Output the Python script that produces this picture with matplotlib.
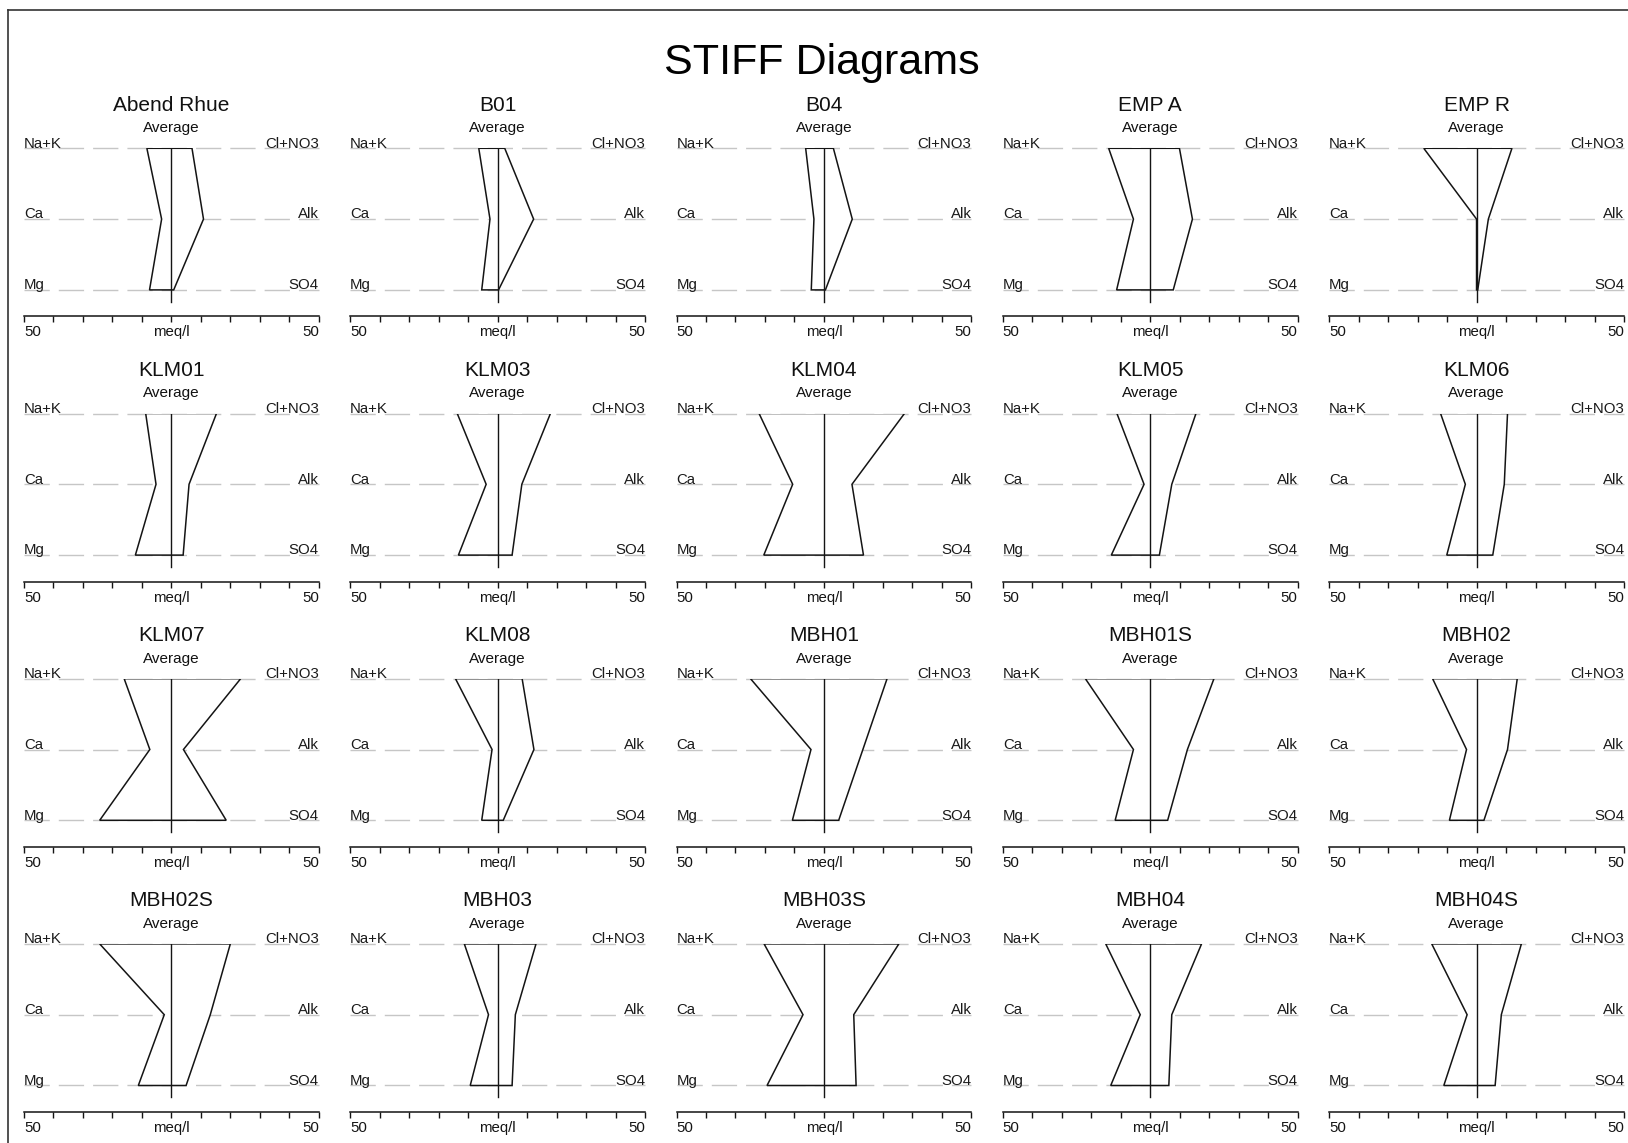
import matplotlib
matplotlib.use('Agg')
import matplotlib.pyplot as plt
from matplotlib import rcParams
from matplotlib.lines import Line2D

rcParams['font.family'] = ['Liberation Sans', 'DejaVu Sans']
rcParams['lines.scale_dashes'] = False

sites = ['Abend Rhue', 'B01', 'B04', 'EMP A', 'EMP R',
         'KLM01', 'KLM03', 'KLM04', 'KLM05', 'KLM06',
         'KLM07', 'KLM08', 'MBH01', 'MBH01S', 'MBH02',
         'MBH02S', 'MBH03', 'MBH03S', 'MBH04', 'MBH04S']

# average cations, meq/l
na_k = [8.3, 6.4, 6.2, 14.1, 17.9, 8.7, 13.7, 22.0, 11.3, 12.2,
        16.0, 14.3, 24.9, 22.0, 14.9, 24.3, 11.3, 20.3, 15.1, 15.2]
ca = [3.3, 2.6, 3.4, 5.7, 0.0, 5.2, 3.9, 10.6, 2.1, 3.8,
      7.3, 1.9, 4.4, 5.7, 3.4, 2.4, 3.1, 7.1, 3.4, 3.2]
mg = [7.4, 5.4, 4.3, 11.4, 0.0, 12.2, 13.3, 20.4, 13.2, 10.1,
      24.3, 5.4, 10.7, 11.9, 9.2, 11.2, 9.3, 19.3, 13.4, 11.1]

# average anions, meq/l
cl_no3 = [7.0, 2.4, 3.2, 9.9, 12.0, 15.3, 17.9, 27.3, 15.5, 10.5,
          23.5, 8.3, 21.4, 21.6, 13.8, 20.0, 13.0, 25.4, 17.4, 15.2]
alk = [10.9, 12.2, 9.6, 14.3, 4.0, 6.0, 8.2, 9.5, 7.3, 9.4,
       4.1, 12.3, 13.2, 12.6, 10.5, 13.2, 6.0, 10.1, 7.3, 8.4]
so4 = [0.8, 0.3, 0.5, 7.8, 0.4, 4.0, 4.9, 13.4, 3.1, 5.5,
       18.6, 1.9, 5.0, 5.9, 2.5, 5.0, 4.9, 10.9, 6.3, 6.3]

cation_labels = ['Na+K', 'Ca', 'Mg']
anion_labels = ['Cl+NO3', 'Alk', 'SO4']
scale_max = 50
tick_labels = ['50', '', '', '', '', 'meq/l', '', '', '', '', '50']

W, H = 1628, 1143
fig = plt.figure(figsize=(W / 100, H / 100), dpi=100)

# panel grid, pixel units
col_left, col_step, ax_w = 23.9, 326.3, 294.9
row_top, row_step, ax_h = 148.3, 265.2, 168.0
ion_step = 70.8

levels = [3, 2, 1]
ybot = 3 - ax_h / ion_step
GrayDash = '#c6c6c6'
Ink = '#141414'

for k, site in enumerate(sites):
    i, j = divmod(k, 5)
    left = col_left + j * col_step
    top = row_top + i * row_step
    ax = fig.add_axes([left / W, 1 - (top + ax_h) / H, ax_w / W, ax_h / H])
    ax.set_xlim(-scale_max, scale_max)
    ax.set_ylim(ybot, 3)
    ax.patch.set_visible(False)

    # dashed reference line for each ion pair
    for y, cl, al in zip(levels, cation_labels, anion_labels):
        ax.plot([-scale_max, scale_max], [y, y], color=GrayDash, lw=1.0,
                ls=(0, (18.2, 6.5)), zorder=1, clip_on=False)
        ax.text(-scale_max, y + 0.01, cl, ha='left', va='baseline',
                fontsize=10.8, color='#1a1a1a', zorder=2)
        ax.text(scale_max, y + 0.01, al, ha='right', va='baseline',
                fontsize=10.8, color='#1a1a1a', zorder=2)

    xs = [-na_k[k], -ca[k], -mg[k], so4[k], alk[k], cl_no3[k]]
    ys = [3, 2, 1, 1, 2, 3]
    ax.fill(xs, ys, facecolor='white', edgecolor=Ink, lw=1.1, zorder=3)
    ax.plot([0, 0], [3, 1 - 12 / ion_step], color=Ink, lw=1.0, zorder=4)

    ax.text(0, 3 + 43 / ion_step, site, ha='center', va='center',
            fontsize=15, color='#111111')
    ax.text(0, 3 + 20 / ion_step, 'Average', ha='center', va='center',
            fontsize=11, color='#111111')

    # meq/l ruler
    for s in ['top', 'left', 'right']:
        ax.spines[s].set_visible(False)
    ax.spines['bottom'].set_color(Ink)
    ax.spines['bottom'].set_linewidth(1.1)
    ax.set_yticks([])
    ax.set_xticks(range(-scale_max, scale_max + 1, 10))
    ax.set_xticklabels(tick_labels)
    ax.tick_params(axis='x', direction='out', length=4.5, width=1.0,
                   pad=2, labelsize=10.8, colors=Ink)
    xt = ax.get_xticklabels()
    xt[0].set_ha('left')
    xt[-1].set_ha('right')

fig.text(822 / W, 1 - 63 / H, 'STIFF Diagrams', ha='center', va='center',
         fontsize=31, color='black')

# page frame
fig.add_artist(Line2D([8.3 / W, 8.3 / W], [0, 1 - 10.4 / H], color='#333333', lw=1.2))
fig.add_artist(Line2D([8.3 / W, 1], [1 - 10.4 / H, 1 - 10.4 / H], color='#333333', lw=1.2))

fig.savefig('out.png', dpi=100, facecolor='white')
